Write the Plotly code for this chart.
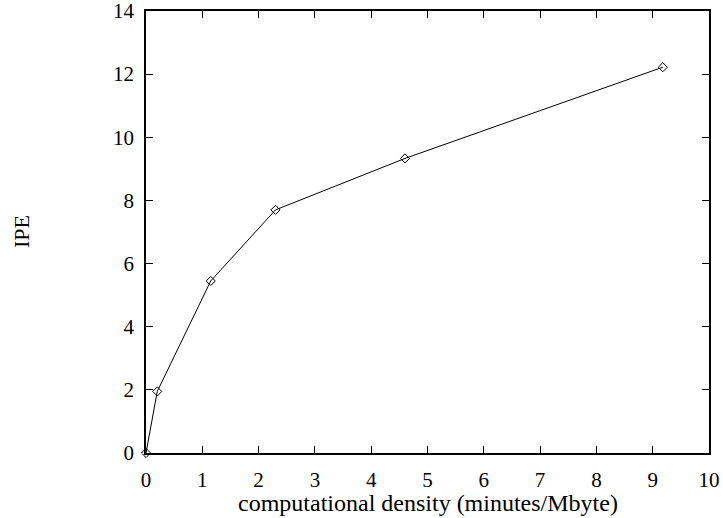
import plotly.graph_objects as go

density = [0, 0.2, 1.15, 2.3, 4.6, 9.18]
ipe = [0, 1.95, 5.45, 7.7, 9.33, 12.22]
x_ticks = list(range(0, 11))
y_ticks = list(range(0, 15, 2))

FONT = "Liberation Serif, Times New Roman, serif"

fig = go.Figure()
fig.add_trace(go.Scatter(
    x=density, y=ipe, mode="lines+markers",
    line=dict(color="black", width=1),
    marker=dict(symbol="diamond-open", size=7, color="black", line=dict(width=1)),
    showlegend=False, cliponaxis=False,
))

axis_common = dict(
    showgrid=False, zeroline=False, showline=True, linecolor="black", linewidth=1.5,
    mirror="ticks", ticks="inside", ticklen=7, tickwidth=1, tickcolor="black",
    tickfont=dict(family=FONT, size=21, color="black"), automargin=False,
    ticklabeloverflow="allow",
)
fig.update_xaxes(range=[0, 10], tickvals=x_ticks, ticklabelstandoff=7, **axis_common)
fig.update_yaxes(range=[0, 14], tickvals=y_ticks, ticklabelstandoff=6, **axis_common)

fig.update_layout(
    width=723, height=518,
    margin=dict(l=146, r=14, t=11, b=65),
    plot_bgcolor="white", paper_bgcolor="white",
    font=dict(family=FONT, color="black"),
    annotations=[
        dict(text="computational density (minutes/Mbyte)", xref="paper", yref="paper",
             x=0.5, y=-0.112, xanchor="center", yanchor="middle", showarrow=False,
             font=dict(family=FONT, size=24, color="black")),
        dict(text="IPE", xref="paper", yref="paper", x=-0.222, y=0.5,
             xanchor="center", yanchor="middle", textangle=-90, showarrow=False,
             font=dict(family=FONT, size=22, color="black")),
    ],
)
fig.write_html("out.html", config={"displayModeBar": False},
               post_script="document.body.style.margin='0';document.body.style.overflow='hidden';")
